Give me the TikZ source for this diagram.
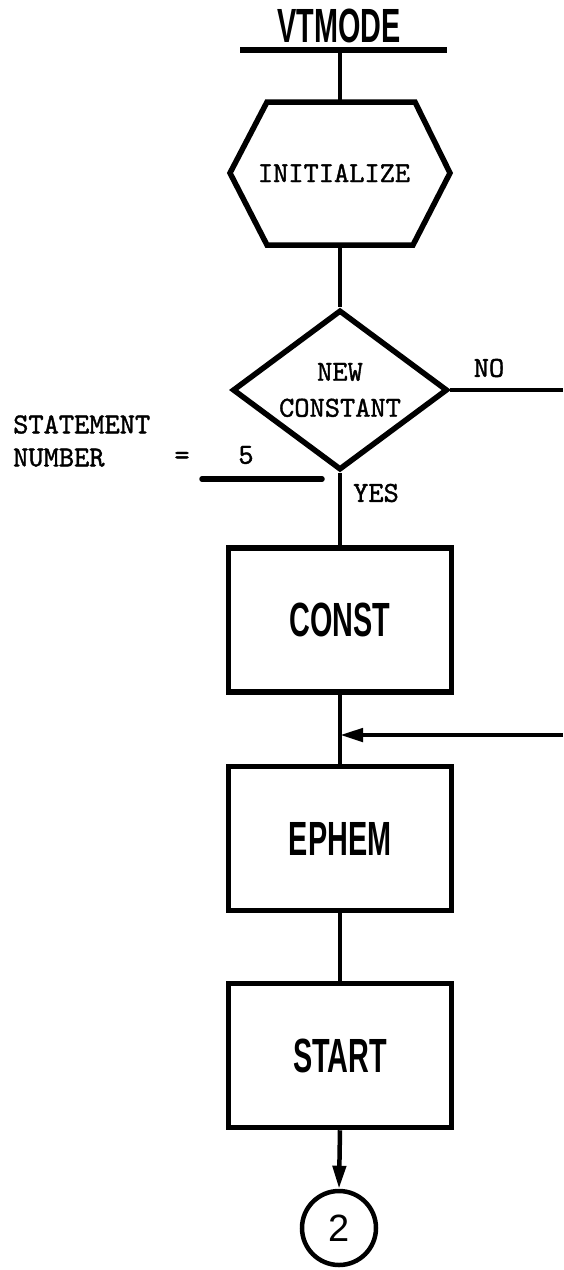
\documentclass[tikz,border=0pt]{standalone}
\usepackage{fontspec}
\newfontfamily\condfont[FakeStretch=0.6]{Liberation Sans}
\newfontfamily\plainsans{Liberation Sans}
\newfontfamily\typew[FakeBold=1.3]{lmmono10-regular.otf}
\usetikzlibrary{arrows.meta,shapes.geometric}
\begin{document}
\begin{tikzpicture}[x=1pt,y=-1pt,
  line/.style={line width=4.5pt},
  heavy/.style={line width=5.5pt},
  bigtext/.style={font=\condfont\bfseries\fontsize{48}{52}\selectfont},
  box/.style={draw,line width=5.5pt,minimum width=223pt,minimum height=144pt,inner sep=0pt,bigtext},
  tt/.style={inner sep=0pt,font=\typew\fontsize{29}{36}\selectfont},
  tip/.style={-{Triangle[length=23pt,width=13pt]}}
]
\useasboundingbox (0,0) rectangle (563,1270);
% title and bar
\node[inner sep=0pt,bigtext] (title) at (339,26) {VTMODE};
\coordinate (barL) at (240,50);
\coordinate (barR) at (447,50);
\coordinate (barM) at (340,50);
\draw[line width=6pt] (barL) -- (barR);
% hexagon
\coordinate (hT) at (340,102);
\coordinate (hB) at (340,245);
\draw[heavy,line join=miter] (267,102) -- (415,102) -- (450,173) -- (413,245) -- (267,245) -- (230,173) -- cycle;
\node[tt] (init) at (334,173) {INITIALIZE};
\draw[line] (barM) -- (hT);
% decision
\node[draw,diamond,heavy,minimum width=215pt,minimum height=160pt,aspect=1.34,inner sep=0pt,
  tt,align=center] (dec) at (340,390) {NEW\\CONSTANT};
\draw[line] (hB) -- (dec.north);
\coordinate (noend) at (563,390);
\draw[line] (dec.east) -- (noend);
\node[tt] (no) at (489,368) {NO};
\node[tt] (yes) at (376,493) {YES};
% statement number
\node[tt,align=left,anchor=west,font=\typew\fontsize{29}{33}\selectfont] (stmt) at (13,441) {STATEMENT\\NUMBER};
\node[tt] (eq) at (182,458) {=};
\node[tt] (five) at (246,455) {5};
\coordinate (ulL) at (202,479);
\coordinate (ulR) at (322,479);
\draw[heavy,line cap=round] (ulL) -- (ulR);
% boxes
\node[box] (const) at (340,620) {CONST};
\node[box] (ephem) at (340,838.5) {EPHEM};
\node[box] (start) at (340,1055.5) {START};
\draw[line] (dec.south) -- (const.north);
\draw[line] (const.south) -- (ephem.north);
\draw[line] (ephem.south) -- (start.north);
\coordinate (join) at (340,735);
\coordinate (loopin) at (563,735);
\draw[line,tip] (loopin) -- (join);
% connector
\node[draw,circle,line width=4.5pt,minimum size=74pt,inner sep=0pt,
  font=\plainsans\fontsize{38}{40}\selectfont] (c2) at (339,1228) {2};
\draw[line,tip] (start.south) -- (c2.north);
\end{tikzpicture}
\end{document}
